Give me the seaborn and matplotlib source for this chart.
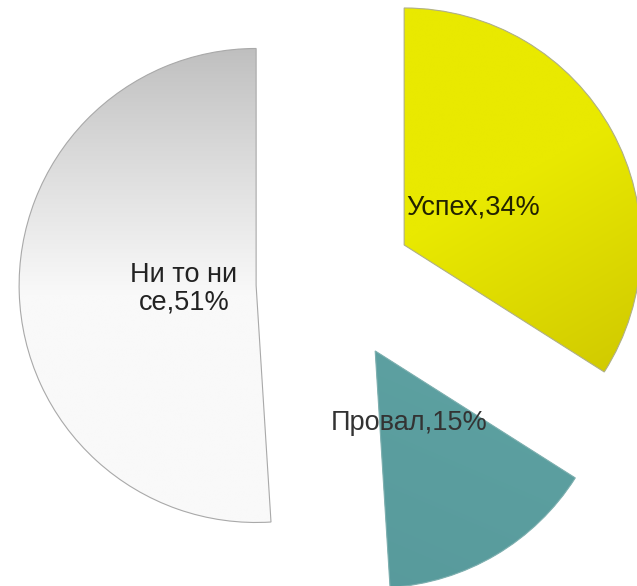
import numpy as np
import matplotlib
matplotlib.use("Agg")
import matplotlib.pyplot as plt
from matplotlib.patches import Wedge
import seaborn as sns

categories = ["Успех", "Провал", "Ни то ни се"]
values = [34, 15, 51]
label_texts = ["Успех,34%", "Провал,15%", "Ни то ни\nсе,51%"]
base_colors = ["#e8e800", "#5a9f9f", "#f0f0f0"]

sns.set_theme(style="white")
plt.rcParams['font.family'] = ['Liberation Sans', 'DejaVu Sans']

W, H = 637, 586
fig = plt.figure(figsize=(W / 100, H / 100), dpi=100)
ax = fig.add_axes([0, 0, 1, 1])
R = 237.0
cx, cy = 335.0, 283.0
xlim = (-cx / R, (W - cx) / R)
ylim = (-(H - cy) / R, cy / R)

wedges, _ = ax.pie(values, colors=base_colors, startangle=90, counterclock=False,
                   explode=[0.333] * 3, radius=1.0,
                   wedgeprops=dict(linewidth=0, edgecolor='none'))

def hex2rgb(h):
    h = h.lstrip('#')
    return np.array([int(h[i:i + 2], 16) / 255 for i in (0, 2, 4)])

def make_grad(kind, n=300):
    u = np.linspace(0, 1, n)
    X, Y = np.meshgrid(u, u)  # Y: 0 top, 1 bottom (origin upper)
    img = np.zeros((n, n, 3))
    if kind == 0:  # yellow: bright, darker to bottom-right
        t = np.clip((0.45 * X + 0.8 * Y - 0.62) / 0.55, 0, 1)
        c1, c2 = hex2rgb("#e9e900"), hex2rgb("#c9c000")
    elif kind == 1:  # teal
        t = np.clip((0.3 * (1 - X) + 0.7 * Y - 0.3) / 0.7, 0, 1)
        c1, c2 = hex2rgb("#5fa3a3"), hex2rgb("#56989a")
    else:  # gray: darker at top, white lower
        t = np.clip(Y / 0.52, 0, 1) ** 0.9
        c1, c2 = hex2rgb("#bdbdbd"), hex2rgb("#f9f9f9")
    for k in range(3):
        img[..., k] = c1[k] + (c2[k] - c1[k]) * t
    return img

edge_cols = ["#b0b08a", "#7fb0b0", "#a9a9a9"]
for i, w in enumerate(wedges):
    x0, y0 = w.center
    ext = [x0 - 1.02, x0 + 1.02, y0 - 1.02, y0 + 1.02]
    im = ax.imshow(make_grad(i), extent=ext, origin='upper', zorder=2,
                   interpolation='bilinear')
    im.set_clip_path(w)
    ax.add_patch(Wedge(w.center, w.r, w.theta1, w.theta2, fill=False,
                       edgecolor=edge_cols[i], linewidth=0.8, zorder=3))

ax.set_xlim(*xlim)
ax.set_ylim(*ylim)
ax.set_aspect('equal')
ax.axis('off')

def px(x, y):
    return (x - cx) / R, (cy - y) / R

fs = 19.5
tx, ty = px(406, 208)
ax.text(tx, ty, label_texts[0], ha='left', va='center', fontsize=fs, color='#222200', zorder=5)
tx, ty = px(409, 423)
ax.text(tx, ty, label_texts[1], ha='center', va='center', fontsize=fs, color='#333333', zorder=5)
tx, ty = px(184, 289)
ax.text(tx, ty, label_texts[2], ha='center', va='center', fontsize=fs, color='#222222',
        linespacing=1.05, zorder=5)

fig.savefig("out.png", dpi=100)
